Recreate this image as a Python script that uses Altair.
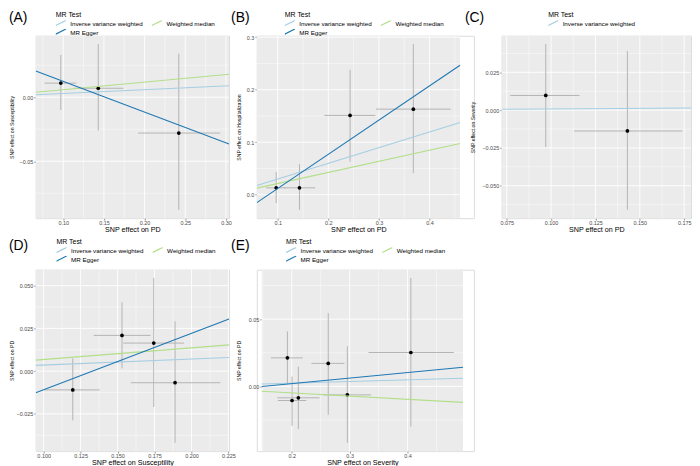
import altair as alt
import pandas as pd

FONT = "Liberation Sans"
PANEL_BG = "#ebebeb"
ERR_COLOR = "#b3b3b3"

# legend order (filled column by column: IVW, MR Egger | Weighted median)
METHOD_ORDER = ["Inverse variance weighted", "MR Egger", "Weighted median"]
METHOD_COLORS = ["#a6cee3", "#1f78b4", "#b2df8a"]

# ---------------- (A) SNP effect on PD vs Susceptibility
A_x = [0.097, 0.143, 0.242]
A_y = [0.011, 0.007, -0.028]
A_xlo = [0.077, 0.113, 0.192]
A_xhi = [0.116, 0.174, 0.293]
A_ylo = [-0.010, -0.026, -0.088]
A_yhi = [0.033, 0.0415, 0.034]
A_methods = ["Inverse variance weighted", "Weighted median", "MR Egger"]
A_slope = [0.0293, 0.059, -0.240]
A_icpt = [0.0, 0.0, 0.0363]
A_xticks = [0.10, 0.15, 0.20, 0.25, 0.30]
A_yticks = [-0.05, 0.00]

# ---------------- (B) SNP effect on PD vs Hospitalization
B_x = [0.097, 0.143, 0.243, 0.368]
B_y = [0.013, 0.013, 0.151, 0.163]
B_xlo = [0.077, 0.113, 0.192, 0.294]
B_xhi = [0.116, 0.174, 0.293, 0.442]
B_ylo = [-0.016, -0.029, 0.063, 0.041]
B_yhi = [0.043, 0.058, 0.238, 0.287]
B_methods = ["Inverse variance weighted", "Weighted median", "MR Egger"]
B_slope = [0.2985, 0.212, 0.652]
B_icpt = [0.0, 0.0, -0.0535]
B_xticks = [0.1, 0.2, 0.3, 0.4]
B_yticks = [0.0, 0.1, 0.2, 0.3]

# ---------------- (C) SNP effect on PD vs Severity
C_x = [0.097, 0.143]
C_y = [0.0097, -0.0138]
C_xlo = [0.077, 0.113]
C_xhi = [0.116, 0.174]
C_ylo = [-0.0244, -0.066]
C_yhi = [0.0437, 0.039]
C_methods = ["Inverse variance weighted"]
C_slope = [0.008]
C_icpt = [0.0]
C_xticks = [0.075, 0.100, 0.125, 0.150, 0.175]
C_yticks = [-0.050, -0.025, 0.000, 0.025]

# ---------------- (D) SNP effect on Susceptibility vs PD
D_x = [0.1197, 0.153, 0.1745, 0.1889]
D_y = [-0.011, 0.0209, 0.0164, -0.0068]
D_xlo = [0.1006, 0.1339, 0.1539, 0.159]
D_xhi = [0.1379, 0.1723, 0.195, 0.2195]
D_ylo = [-0.0288, 0.0016, -0.021, -0.042]
D_yhi = [0.0074, 0.0402, 0.0545, 0.0292]
D_methods = ["Inverse variance weighted", "Weighted median", "MR Egger"]
D_slope = [0.0352, 0.068, 0.330]
D_icpt = [0.0, 0.0, -0.0439]
D_xticks = [0.100, 0.125, 0.150, 0.175, 0.200, 0.225]
D_yticks = [-0.025, 0.000, 0.025, 0.050]

# ---------------- (E) SNP effect on Severity vs PD
E_x = [0.1925, 0.2005, 0.2114, 0.263, 0.296, 0.4057]
E_y = [0.0212, -0.0105, -0.0085, 0.0171, -0.0063, 0.0252]
E_xlo = [0.164, 0.176, 0.175, 0.234, 0.254, 0.3325]
E_xhi = [0.219, 0.225, 0.248, 0.291, 0.337, 0.480]
E_ylo = [0.0016, -0.0293, -0.0317, -0.0212, -0.042, -0.030]
E_yhi = [0.0408, 0.0073, 0.0146, 0.0545, 0.0298, 0.0806]
E_methods = ["Inverse variance weighted", "Weighted median", "MR Egger"]
E_slope = [0.0123, -0.024, 0.041]
E_icpt = [0.0, 0.0, -0.0061]
E_xticks = [0.2, 0.3, 0.4]
E_yticks = [0.00, 0.05]


def expand(lo, hi):
    p = 0.05 * (hi - lo)
    return [lo - p, hi + p]


def minor_breaks(ticks, dom):
    step = ticks[1] - ticks[0]
    cands = [ticks[0] - step / 2] + [t + step / 2 for t in ticks]
    return [c for c in cands if dom[0] <= c <= dom[1]]


def panel(tag, x, y, xlo, xhi, ylo, yhi, methods, slopes, icpts,
          xticks, yticks, xfmt, yfmt, xtitle, ytitle,
          width, height, tag_pos, legend_pos, ytitle_x,
          xrange=None, yoffset=0):
    xdom = expand(min(xlo), max(xhi))
    ydom = expand(min(ylo), max(yhi))

    sx = dict(domain=xdom, nice=False, zero=False)
    if xrange:
        sx["range"] = xrange
    xscale = alt.Scale(**sx)
    yscale = alt.Scale(domain=ydom, nice=False, zero=False)

    common = dict(grid=False, domain=False, tickSize=2, tickWidth=0.5,
                  tickColor="#333333", labelFontSize=5.5, labelColor="#4d4d4d",
                  labelFont=FONT, labelFlush=False, labelOverlap=False,
                  titleFont=FONT, titleFontWeight="normal", titleColor="#000000",
                  titleBaseline="middle")
    xaxis = alt.Axis(title=xtitle, values=xticks, format=xfmt, labelPadding=0.5,
                     titleFontSize=7.2, titleY=11.2, **common)
    yargs = dict(title=ytitle, values=yticks, format=yfmt, labelPadding=1,
                 titleFontSize=5.2, titleX=ytitle_x, **common)
    if yoffset:
        yargs["offset"] = yoffset
    yaxis = alt.Axis(**yargs)

    def X(f):
        return alt.X(f, type="quantitative", scale=xscale, axis=xaxis)

    def Y(f):
        return alt.Y(f, type="quantitative", scale=yscale, axis=yaxis)

    bg_df = pd.DataFrame({"x0": [xdom[0]], "x1": [xdom[1]], "y0": [ydom[0]], "y1": [ydom[1]]})
    bg = alt.Chart(bg_df).mark_rect(color=PANEL_BG).encode(
        x=X("x0"), x2="x1", y=Y("y0"), y2="y1")

    def vgrid(vals, w):
        df = pd.DataFrame({"g": vals, "y0": ydom[0], "y1": ydom[1]})
        return alt.Chart(df).mark_rule(color="white", strokeWidth=w).encode(
            x=X("g"), y=Y("y0"), y2="y1")

    def hgrid(vals, w):
        df = pd.DataFrame({"g": vals, "x0": xdom[0], "x1": xdom[1]})
        return alt.Chart(df).mark_rule(color="white", strokeWidth=w).encode(
            y=Y("g"), x=X("x0"), x2="x1")

    pts = pd.DataFrame({"x": x, "y": y, "xlo": xlo, "xhi": xhi, "ylo": ylo, "yhi": yhi})
    errv = alt.Chart(pts).mark_rule(color=ERR_COLOR, strokeWidth=1).encode(
        x=X("x"), y=Y("ylo"), y2="yhi")
    errh = alt.Chart(pts).mark_rule(color=ERR_COLOR, strokeWidth=1).encode(
        y=Y("y"), x=X("xlo"), x2="xhi")
    dots = alt.Chart(pts).mark_circle(color="black", size=14, opacity=1).encode(
        x=X("x"), y=Y("y"))

    rows = []
    for m, b, a in zip(methods, slopes, icpts):
        for xe in xdom:
            rows.append({"method": m, "x": xe, "y": a + b * xe})
    line_df = pd.DataFrame(rows)
    order = [m for m in METHOD_ORDER if m in methods]
    cols = [METHOD_COLORS[METHOD_ORDER.index(m)] for m in order]
    legend = alt.Legend(
        title="MR Test", orient="none", legendX=legend_pos[0], legendY=legend_pos[1],
        columns=2, symbolType="M-4,2L4,-2", symbolSize=12.25, symbolStrokeWidth=1.2,
        clipHeight=7.5,
        labelFont=FONT, labelFontSize=6.3, labelColor="#000000", labelLimit=400,
        titleFont=FONT, titleFontSize=7, titleFontWeight="normal", titleColor="#000000",
        titlePadding=2, labelOffset=8.25, columnPadding=9, rowPadding=1, padding=0)
    lines = alt.Chart(line_df).mark_line(strokeWidth=1.1, clip=True).encode(
        x=X("x"), y=Y("y"),
        color=alt.Color("method:N", scale=alt.Scale(domain=order, range=cols),
                        sort=order, legend=legend))

    tag_df = pd.DataFrame({"t": [tag]})
    tag_mark = alt.Chart(tag_df).mark_text(
        align="left", baseline="top", fontSize=14, font=FONT, color="black").encode(
        x=alt.value(tag_pos[0]), y=alt.value(tag_pos[1]), text="t:N")

    return alt.layer(
        bg,
        vgrid(minor_breaks(xticks, xdom), 0.45), hgrid(minor_breaks(yticks, ydom), 0.45),
        vgrid(xticks, 0.9), hgrid(yticks, 0.9),
        errv, errh, dots, lines, tag_mark,
    ).properties(width=width, height=height)


pA = panel("(A)", A_x, A_y, A_xlo, A_xhi, A_ylo, A_yhi, A_methods, A_slope, A_icpt,
           A_xticks, A_yticks, ".2f", ".2f", "SNP effect on PD", "SNP effect on Susceptibility",
           195, 184, (-27, -25), (20.25, -25), -24)
pB = panel("(B)", B_x, B_y, B_xlo, B_xhi, B_ylo, B_yhi, B_methods, B_slope, B_icpt,
           B_xticks, B_yticks, ".1f", ".1f", "SNP effect on PD", "SNP effect on Hospitalization",
           219, 184, (-26, -25), (28.25, -25), -18, xrange=[0, 205])
pC = panel("(C)", C_x, C_y, C_xlo, C_xhi, C_ylo, C_yhi, C_methods, C_slope, C_icpt,
           C_xticks, C_yticks, ".3f", ".3f", "SNP effect on PD", "SNP effect on Severity",
           191, 184, (-37, -25), (46.95, -25), -29)
pD = panel("(D)", D_x, D_y, D_xlo, D_xhi, D_ylo, D_yhi, D_methods, D_slope, D_icpt,
           D_xticks, D_yticks, ".3f", ".3f", "SNP effect on Susceptility", "SNP effect on PD",
           195, 183, (-27, -31), (20.95, -32), -24)
pE = panel("(E)", E_x, E_y, E_xlo, E_xhi, E_ylo, E_yhi, E_methods, E_slope, E_icpt,
           E_xticks, E_yticks, ".1f", ".2f", "SNP effect on Severity", "SNP effect on PD",
           219, 183, (-26, -31), (29.55, -32), -23, xrange=[5, 208], yoffset=-5)

chart = alt.concat(
    pA, pB, pC, pD, pE,
    columns=3, spacing={"row": 52, "column": 28}, bounds="flush", align="each",
).resolve_scale(color="independent").properties(
    padding=0, background="white"
).configure_view(strokeWidth=0).configure(font=FONT)

chart.save("out.html", embed_options={"renderer": "svg", "actions": False})
